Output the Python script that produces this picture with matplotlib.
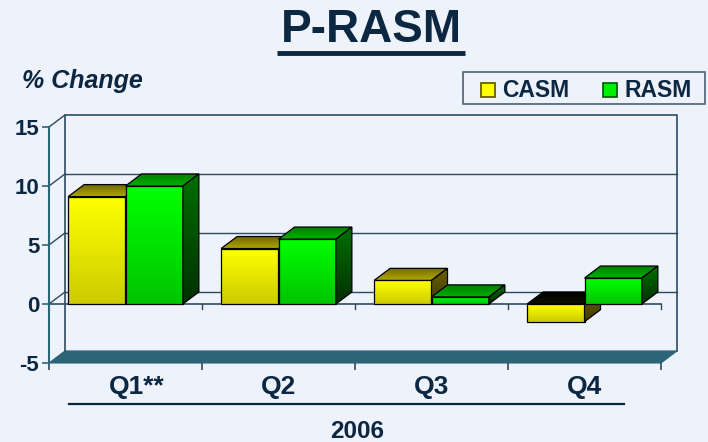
import numpy as np
import matplotlib
matplotlib.use('Agg')
import matplotlib.pyplot as plt
from matplotlib.patches import Polygon, Rectangle
from matplotlib.colors import LinearSegmentedColormap
from matplotlib.lines import Line2D
import matplotlib.transforms as mtransforms

# data
quarters = ['Q1**', 'Q2', 'Q3', 'Q4']
casm = [9.1, 4.7, 2.0, -1.5]
rasm = [10.0, 5.5, 0.6, 2.2]
series_names = ['CASM', 'RASM']
yticks = [-5, 0, 5, 10, 15]

BG = '#eef2fa'
NAVY = '#0b2742'
TEAL = '#2c6578'
GRID = '#2f4a60'
plt.rcParams['font.family'] = ['Liberation Sans', 'DejaVu Sans']

W, H = 708, 442
fig = plt.figure(figsize=(W / 100, H / 100), dpi=100, facecolor=BG)
ax = fig.add_axes([49 / W, 79 / H, 612 / W, 236 / H])
ax.set_xlim(0, 4)
ax.set_ylim(-5, 15)
ax.patch.set_visible(False)

# depth offset of the fake 3d box, in data units
DX = 16 / 153
DY = 1.02


def px(x, y):
    return x / W, 1 - y / H


# back wall, grid and floor
ax.add_patch(Polygon([(0, -5), (4, -5), (4 + DX, -5 + DY), (DX, -5 + DY)],
                     closed=True, fc=TEAL, ec=TEAL, lw=0.8, clip_on=False, zorder=1))
for y in [0, 5, 10]:
    ax.plot([DX, 4 + DX], [y + DY, y + DY], color=GRID, lw=1, clip_on=False, zorder=1)
for y in [0, 5, 10, 15]:
    ax.plot([0, DX], [y, y + DY], color=GRID, lw=1, clip_on=False, zorder=1)
ax.plot([DX, DX, 4 + DX, 4 + DX], [-5 + DY, 15 + DY, 15 + DY, -5 + DY],
        color=GRID, lw=1.2, clip_on=False, zorder=1)

# front zero line with small ticks
ax.plot([0, 4], [0, 0], color=GRID, lw=1.2, clip_on=False, zorder=2)
for x in range(1, 5):
    ax.plot([x, x], [0, -0.45], color=GRID, lw=1, clip_on=False, zorder=2)

zc = [3]


def face(verts, c_top, c_bot):
    xs = [v[0] for v in verts]
    ys = [v[1] for v in verts]
    poly = Polygon(verts, closed=True, fc='none', ec='black', lw=0.9,
                   zorder=zc[0] + 0.5, clip_on=False)
    ax.add_patch(poly)
    cmap = LinearSegmentedColormap.from_list('g', [c_bot, c_top])
    grad = np.linspace(0, 1, 64).reshape(-1, 1)
    im = ax.imshow(grad, extent=(min(xs), max(xs), min(ys), max(ys)), origin='lower',
                   cmap=cmap, aspect='auto', interpolation='bilinear', zorder=zc[0])
    im.set_clip_path(poly)
    zc[0] += 1


styles = {
    'CASM': dict(front=('#ffff00', '#cccc00'), top=('#6e6600', '#b0a800'),
                 side=('#6a6200', '#3e3900'), inner=('#000000', '#101000')),
    'RASM': dict(front=('#00ff00', '#00c400'), top=('#007a00', '#00b000'),
                 side=('#007000', '#003000'), inner=('#000000', '#001000')),
}

bw = 0.375
for i in range(len(quarters)):
    c = i + 0.5
    for j, (name, vals) in enumerate(zip(series_names, [casm, rasm])):
        v = vals[i]
        st = styles[name]
        x0 = c - bw + j * bw
        x1 = x0 + bw
        lo, hi = min(v, 0), max(v, 0)
        face([(x0, lo), (x1, lo), (x1, hi), (x0, hi)], *st['front'])
        top_col = st['top'] if v >= 0 else st['inner']
        face([(x0, hi), (x1, hi), (x1 + DX, hi + DY), (x0 + DX, hi + DY)], *top_col)
        face([(x1, lo), (x1 + DX, lo + DY), (x1 + DX, hi + DY), (x1, hi)], *st['side'])

# axes styling
for s in ['top', 'right', 'bottom']:
    ax.spines[s].set_visible(False)
ax.spines['left'].set_color(TEAL)
ax.spines['left'].set_linewidth(1.5)
ax.set_yticks(yticks)
ax.set_yticklabels([str(t) for t in yticks], fontsize=16, fontweight='bold', color=NAVY)
ax.tick_params(axis='y', direction='out', length=5, width=1.2, color=TEAL, pad=2)
ax.set_xticks(range(5))
ax.set_xticklabels([])
ax.tick_params(axis='x', direction='out', length=5, width=1.2, color=GRID)

for i, q in enumerate(quarters):
    shift = 11 if q.endswith('**') else 0
    tr = mtransforms.offset_copy(ax.transData, fig=fig, x=shift, y=0, units='dots')
    ax.text(i + 0.5, -5, q, transform=tr, ha='center', va='baseline',
            fontsize=19, fontweight='bold', color=NAVY)
# fix baseline position of category labels in pixels
for t in ax.texts:
    t.set_transform(mtransforms.blended_transform_factory(t.get_transform(), fig.transFigure))
    t.set_y(1 - 394 / H)

fig.add_artist(Line2D([69 / W, 624 / W], [1 - 404 / H] * 2, color=NAVY, lw=1.6))
fig.text(*px(357, 438), '2006', ha='center', va='baseline', fontsize=17.5,
         fontweight='bold', color=NAVY)

# title
fig.text(*px(371, 42), 'P-RASM', ha='center', va='baseline', fontsize=33,
         fontweight='bold', color=NAVY)
fig.add_artist(Line2D([277 / W, 465 / W], [1 - 52.5 / H] * 2, color=NAVY, lw=3.5,
                      solid_capstyle='butt'))
fig.text(*px(22, 88), '% Change', ha='left', va='baseline', fontsize=18,
         fontweight='bold', fontstyle='italic', color=NAVY)

# legend
fig.add_artist(Rectangle(px(463, 104), 242 / W, 32 / H, transform=fig.transFigure,
                         fc=BG, ec='#4a6073', lw=1.2))
leg_x = [481, 603]
leg_cols = [('#ffff00', '#5a5200'), ('#00ee00', '#005500')]
for name, lx, (fc, ec) in zip(series_names, leg_x, leg_cols):
    fig.add_artist(Rectangle(px(lx, 97), 14 / W, 14 / H, transform=fig.transFigure,
                             fc=fc, ec=ec, lw=1.2))
    fig.text(*px(lx + 21, 97), name, ha='left', va='baseline', fontsize=16.5,
             fontweight='bold', color=NAVY)

fig.savefig('out.png', dpi=100, facecolor=BG)
